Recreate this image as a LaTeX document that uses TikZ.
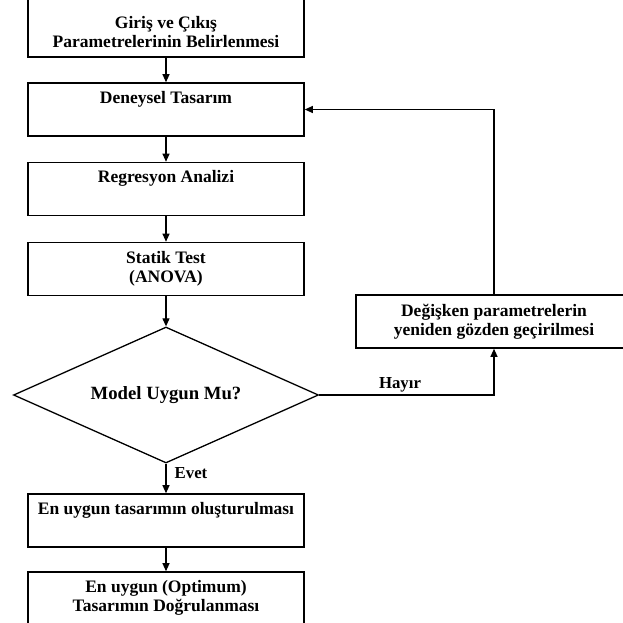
\documentclass[tikz,border=0pt]{standalone}
\usepackage{fontspec}
\setmainfont{Liberation Serif}
\usetikzlibrary{arrows.meta}
\usetikzlibrary{shapes}

\begin{document}
\begin{tikzpicture}[x = 1pt, y = -1pt, font = \bfseries\fontsize{17.5}{19}\selectfont]
	\tikzstyle{boxStyle} = [shape = rectangle, draw, line width = 1.6pt, minimum width = 276pt, minimum height = 53pt, inner sep = 0pt, align = center]
	\tikzstyle{decisionStyle} = [shape = diamond, aspect = 2.24, draw, line width = 1.3pt, minimum width = 305pt, minimum height = 136pt, inner sep = 0pt]
	\tikzstyle{lineStyle} = [line width = 1.1pt, -{Triangle[length = 8pt, width = 7pt]}]
	\useasboundingbox (0,0) rectangle (622,623);
	\node[boxStyle, minimum height = 70pt] (giris) at (166,22) {\strut\\Giriş ve Çıkış\\Parametrelerinin Belirlenmesi};
	\node[boxStyle] (deneysel) at (166,109.5) {Deneysel Tasarım\\\strut};
	\node[boxStyle] (regresyon) at (166,189) {Regresyon Analizi\\\strut};
	\node[boxStyle] (statik) at (166,269) {Statik Test\\(ANOVA)};
	\node[decisionStyle, font = \bfseries\fontsize{18.7}{20}\selectfont] (model) at (166,395) {Model Uygun Mu?};
	\node[boxStyle] (tasarim) at (166,520.5) {En uygun tasarımın oluşturulması\\\strut};
	\node[boxStyle, minimum height = 72pt] (dogrulama) at (166,608) {En uygun (Optimum)\\Tasarımın Doğrulanması\\\strut};
	\node[boxStyle] (degisken) at (494,321.5) {Değişken parametrelerin\\yeniden gözden geçirilmesi};
	\node[font = \bfseries\fontsize{16.8}{18}\selectfont] (hayir) at (400,385) {Hayır};
	\node[font = \bfseries\fontsize{16.8}{18}\selectfont] (evet) at (191,473) {Evet};
	\draw[lineStyle] (giris.south) -- (deneysel.north);
	\draw[lineStyle] (deneysel.south) -- (regresyon.north);
	\draw[lineStyle] (regresyon.south) -- (statik.north);
	\draw[lineStyle] (statik.south) -- (model.north);
	\draw[lineStyle] (model.south) -- (tasarim.north);
	\draw[lineStyle] (tasarim.south) -- (dogrulama.north);
	\draw[lineStyle] (model.east) -| (degisken.south);
	\draw[lineStyle] (degisken.north) |- (deneysel.east);
\end{tikzpicture}
\end{document}
